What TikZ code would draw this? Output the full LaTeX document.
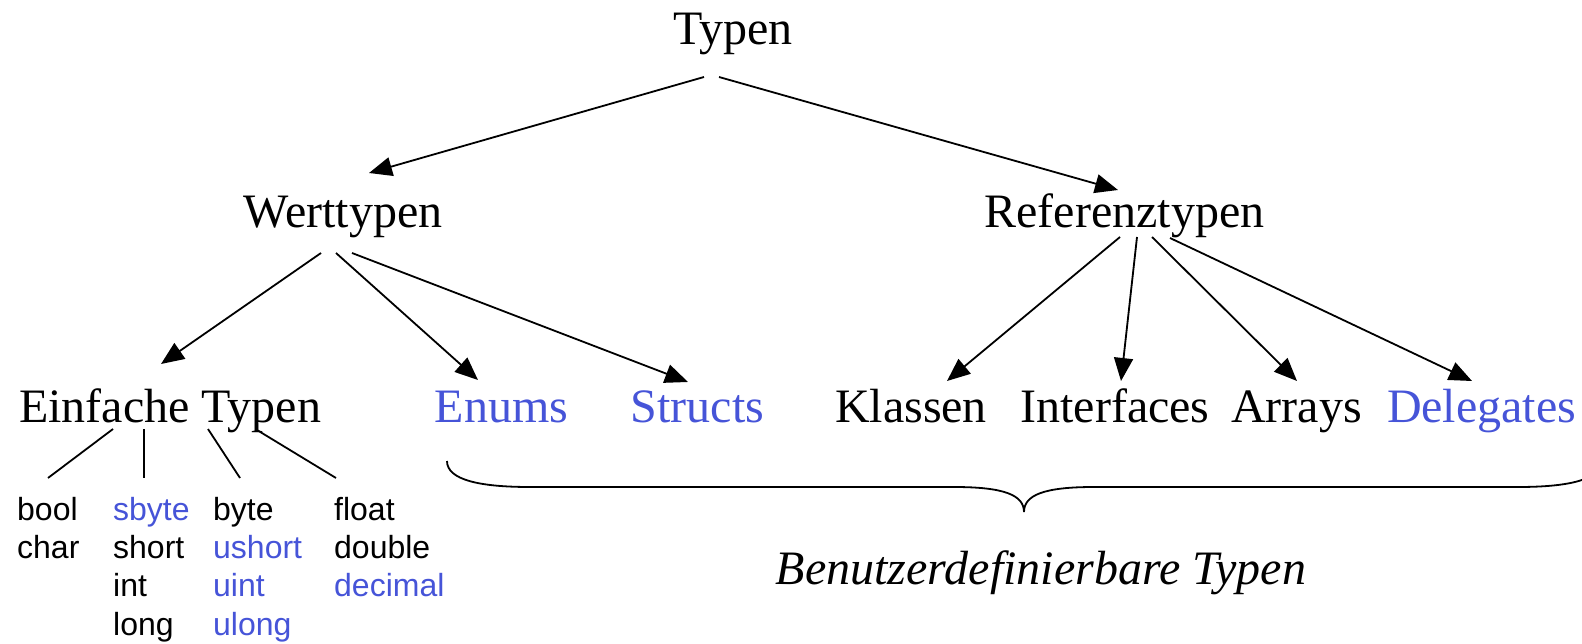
\documentclass[tikz,border=0pt]{standalone}
\usepackage{fontspec}
\setmainfont{Liberation Serif}
\setsansfont{Liberation Sans}
\usetikzlibrary{arrows.meta}
\definecolor{tblue}{RGB}{70,84,216}
\begin{document}
\begin{tikzpicture}[x=1pt,y=-1pt,
  big/.style={font=\fontsize{48}{58}\selectfont, inner sep=0pt, anchor=base},
  small/.style={font=\sffamily\fontsize{32}{38}\selectfont, inner sep=0pt, anchor=base west},
  arr/.style={line width=1.8pt, -{Triangle[length=23pt,width=19pt]}},
  ln/.style={line width=1.8pt},
  blue/.style={text=tblue}]
\useasboundingbox (0,0) rectangle (1582,644);
% main nodes
\node[big] (typen) at (733,45) {Typen};
\node[big] (wert) at (343,228) {Werttypen};
\node[big] (ref) at (1124.5,228) {Referenztypen};
\node[big] (einf) at (170,422) {Einfache Typen};
\node[big,blue] (enums) at (501.5,422) {Enums};
\node[big,blue] (structs) at (697.5,422) {Structs};
\node[big] (klassen) at (911,422) {Klassen};
\node[big] (interfaces) at (1115,422) {Interfaces};
\node[big] (arrays) at (1296.6,422) {Arrays};
\node[big,blue] (delegates) at (1481.6,422) {Delegates};
\node[big,font=\itshape\fontsize{48}{58}\selectfont] (benutzer) at (1041,584) {Benutzerdefinierbare Typen};
% small type lists
\node[small] (bool) at (17,520) {bool};
\node[small] (char) at (17,558.3) {char};
\node[small,blue] (sbyte) at (113,520) {sbyte};
\node[small] (short) at (113,558.3) {short};
\node[small] (int) at (113,596.6) {int};
\node[small] (long) at (113,635) {long};
\node[small] (byte) at (213,520) {byte};
\node[small,blue] (ushort) at (213,558.3) {ushort};
\node[small,blue] (uint) at (213,596.6) {uint};
\node[small,blue] (ulong) at (213,635) {ulong};
\node[small] (float) at (334,520) {float};
\node[small] (double) at (334,558.3) {double};
\node[small,blue] (decimal) at (334,596.6) {decimal};
% arrows
\draw[arr] ([shift={(-29,32)}]typen.base) -- ([shift={(26,-55)}]wert.base);
\draw[arr] ([shift={(-14,32)}]typen.base) -- ([shift={(-6.5,-38)}]ref.base);
\draw[arr] ([shift={(-22,25)}]wert.base) -- ([shift={(-9,-58)}]einf.base);
\draw[arr] ([shift={(-7,25)}]wert.base) -- ([shift={(-23.5,-42)}]enums.base);
\draw[arr] ([shift={(9,25)}]wert.base) -- ([shift={(-9.5,-40)}]structs.base);
\draw[arr] ([shift={(-4.5,9)}]ref.base) -- ([shift={(36,-41)}]klassen.base);
\draw[arr] ([shift={(12.5,9)}]ref.base) -- ([shift={(6,-41)}]interfaces.base);
\draw[arr] ([shift={(27.5,9)}]ref.base) -- ([shift={(0.4,-41)}]arrays.base);
\draw[arr] ([shift={(45.5,10)}]ref.base) -- ([shift={(-9.6,-41)}]delegates.base);
% lines from Einfache Typen
\draw[ln] ([shift={(-57,7)}]einf.base) -- ([shift={(-122,56)}]einf.base);
\draw[ln] ([shift={(-26,7)}]einf.base) -- ([shift={(-26,56)}]einf.base);
\draw[ln] ([shift={(38,7)}]einf.base) -- ([shift={(70,56)}]einf.base);
\draw[ln] ([shift={(87,8)}]einf.base) -- ([shift={(166,56)}]einf.base);
% brace
\draw[ln] (447,461) .. controls (447,480) and (480,487) .. (530,487) -- (954,487)
  .. controls (1004,487) and (1024,495) .. (1024,512)
  .. controls (1024,495) and (1044,487) .. (1094,487) -- (1518,487)
  .. controls (1568,487) and (1601,480) .. (1601,461);
\end{tikzpicture}
\end{document}
